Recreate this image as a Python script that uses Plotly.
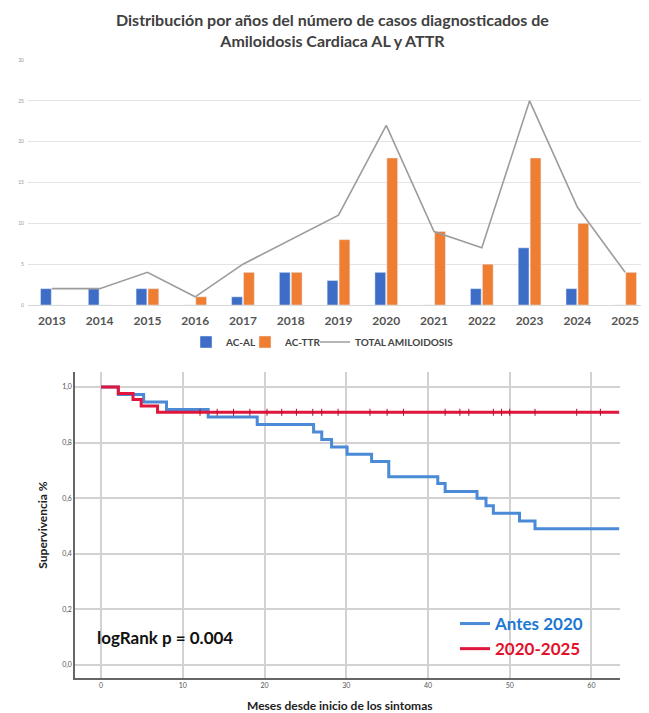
#!/usr/bin/env python3

import plotly.graph_objects as go

# --- top chart: cases per year ---
years = ["2013", "2014", "2015", "2016", "2017", "2018", "2019",
         "2020", "2021", "2022", "2023", "2024", "2025"]
ac_al = [2, 2, 2, 0, 1, 4, 3, 4, 0, 2, 7, 2, 0]
ac_ttr = [0, 0, 2, 1, 4, 4, 8, 18, 9, 5, 18, 10, 4]
total_amiloidosis = [2, 2, 4, 1, 5, 8, 11, 22, 9, 7, 25, 12, 4]

# --- bottom chart: Kaplan-Meier survival ---
antes_t = [0, 2.1, 5.2, 8.0, 13.1, 19.1, 26.0, 27.0, 28.2, 30.1, 33.1, 35.2,
           41.2, 42.1, 46.0, 47.1, 48.0, 51.2, 53.1, 63.4]
antes_s = [1.0, 0.973, 0.946, 0.919, 0.892, 0.865, 0.838, 0.811, 0.784, 0.758,
           0.732, 0.677, 0.653, 0.624, 0.600, 0.573, 0.546, 0.518, 0.490, 0.490]
reciente_t = [0, 2.1, 3.9, 4.9, 6.9, 63.4]
reciente_s = [1.0, 0.977, 0.955, 0.932, 0.909, 0.909]
reciente_censor_t = [12.1, 14.2, 16.2, 18.2, 20.3, 22.1, 23.9, 25.9, 27.0, 29.0,
                     32.9, 35.0, 37.0, 42.1, 43.9, 45.0, 48.0, 49.0, 50.0, 53.1,
                     58.2, 61.1]
reciente_censor_s = [0.909] * len(reciente_censor_t)

# page body has an 8px margin, so the figure starts at (8, 8)
OFF = 8
W, H = 649 - OFF, 713 - OFF
FONT = "Lato"


def px_x(p):
    return (p - OFF) / W


def px_y(p):
    return 1 - (p - OFF) / H


fig = go.Figure()

# Bars + total line (one small legend each so they sit close together)
fig.add_trace(go.Bar(x=years, y=ac_al, name="AC-AL", marker_color="#3d6dc6",
                     xaxis="x", yaxis="y", legend="legend"))
fig.add_trace(go.Bar(x=years, y=ac_ttr, name="AC-TTR", marker_color="#ef7d32",
                     xaxis="x", yaxis="y", legend="legend3"))
fig.add_trace(go.Scatter(x=years, y=total_amiloidosis, name="TOTAL AMILOIDOSIS",
                         mode="lines", line=dict(color="#9c9c9c", width=1.6),
                         xaxis="x", yaxis="y", legend="legend4"))

# KM curves
fig.add_trace(go.Scatter(x=antes_t, y=antes_s, mode="lines", line_shape="hv",
                         line=dict(color="#4a8ad6", width=3),
                         name="<span style='color:#1c78d2'><b>Antes 2020</b></span>",
                         xaxis="x2", yaxis="y2", legend="legend2"))
fig.add_trace(go.Scatter(x=reciente_t, y=reciente_s, mode="lines", line_shape="hv",
                         line=dict(color="#e0163c", width=3),
                         name="<span style='color:#e3112b'><b>2020-2025</b></span>",
                         xaxis="x2", yaxis="y2", legend="legend2"))
fig.add_trace(go.Scatter(x=reciente_censor_t, y=reciente_censor_s, mode="markers",
                         marker=dict(symbol="line-ns-open", size=5, color="#a8102c",
                                     line=dict(color="#a8102c", width=1)),
                         showlegend=False, xaxis="x2", yaxis="y2"))

top_legend = dict(y=px_y(342), yanchor="middle", xanchor="left",
                  font=dict(size=10, color="#444", weight="bold"),
                  itemwidth=30, bgcolor="rgba(0,0,0,0)")

fig.update_layout(
    width=W, height=H,
    margin=dict(l=0, r=0, t=0, b=0, autoexpand=False),
    paper_bgcolor="white", plot_bgcolor="white",
    font=dict(family=FONT, color="#444"),
    separators=",.",
    barmode="group", bargap=0.5, bargroupgap=0.1,
    xaxis=dict(domain=[px_x(28), 1.0], type="category", showgrid=False,
               showline=False, ticks="", automargin=False,
               tickfont=dict(size=12, color="#555", weight="bold"),
               ticklabelstandoff=7, anchor="y"),
    yaxis=dict(domain=[px_y(305), px_y(60)], range=[0, 30], dtick=5,
               showgrid=True, gridcolor="#e4e4e4", gridwidth=1,
               zeroline=True, zerolinecolor="#d8d8d8", zerolinewidth=1,
               tickfont=dict(size=5, color="#999"), ticklabelstandoff=3,
               automargin=False, anchor="x"),
    xaxis2=dict(domain=[px_x(75), px_x(620)], range=[-3.2, 63.5], dtick=10,
                tick0=0, showgrid=True, gridcolor="#d2d2d2", gridwidth=1.5,
                zeroline=False, showline=True, linecolor="#666", linewidth=1.5,
                ticks="", tickfont=dict(size=7, color="#555"), automargin=False,
                anchor="y2"),
    yaxis2=dict(domain=[px_y(678), px_y(372)], range=[-0.047, 1.054], dtick=0.2,
                tick0=0, tickformat=".1f", showgrid=True, gridcolor="#d2d2d2",
                gridwidth=1.5, zeroline=False, showline=True, linecolor="#666",
                linewidth=1.5, ticks="", tickfont=dict(size=7, color="#555"),
                automargin=False,
                title=dict(text="Supervivencia %",
                           font=dict(size=12, color="#222", weight="bold"),
                           standoff=12),
                anchor="x2"),
    legend=dict(top_legend, x=px_x(186)),
    legend3=dict(top_legend, x=px_x(245)),
    legend4=dict(top_legend, x=px_x(315)),
    legend2=dict(x=px_x(455), xanchor="left", y=px_y(606), yanchor="top",
                 font=dict(size=17), itemwidth=30, bgcolor="rgba(0,0,0,0)"),
)

fig.add_annotation(
    text="Distribución por años del número de casos diagnosticados de<br>"
         "Amiloidosis Cardiaca AL y ATTR",
    xref="paper", yref="paper", x=px_x(333), y=px_y(30),
    xanchor="center", yanchor="middle", showarrow=False,
    font=dict(size=16, color="#404040", weight="bold"),
)
fig.add_annotation(
    text="Meses desde inicio de los sintomas",
    xref="paper", yref="paper", x=px_x(340), y=px_y(705),
    xanchor="center", yanchor="middle", showarrow=False,
    font=dict(size=12, color="#222", weight="bold"),
)
fig.add_annotation(
    text="logRank p = 0.004", xref="x2", yref="y2", x=-0.8, y=0.10,
    xanchor="left", yanchor="middle", showarrow=False,
    font=dict(size=17, color="#111", weight="bold"),
)

fig.write_html("out.html")
